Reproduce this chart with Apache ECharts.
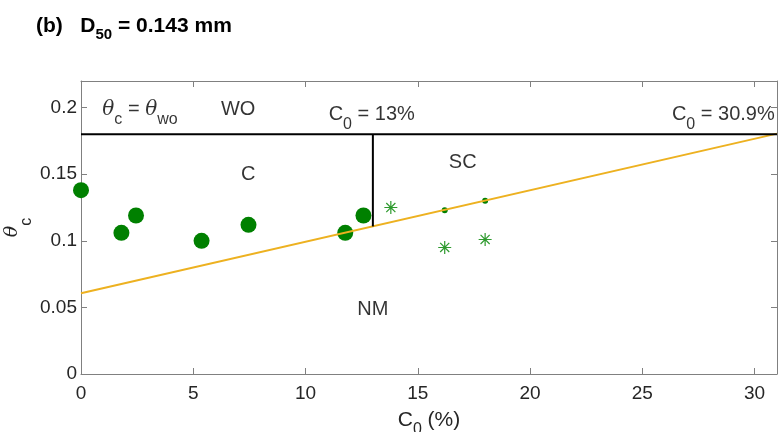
<!DOCTYPE html>
<html>
<head>
<meta charset="utf-8">
<script src="https://cdn.jsdelivr.net/npm/echarts@6/dist/echarts.min.js"></script>
<style>
html,body{margin:0;padding:0;background:#fff;}
#chart{width:779px;height:432px;}
</style>
</head>
<body>
<div id="chart"></div>
<script>
// measured points (C0 %, theta_c)
var bigX = [0, 1.8, 2.45, 5.37, 7.46, 11.77, 12.58];
var bigY = [0.138, 0.106, 0.119, 0.100, 0.112, 0.106, 0.119];
var dotX = [16.2, 18.0];
var dotY = [0.123, 0.130];
var starX = [13.8, 16.2, 18.0];
var starY = [0.125, 0.095, 0.101];
// fitted line and boundaries
var fitX = [0, 31];
var fitY = [0.0607, 0.1805];
var woX = [0, 31];
var woY = [0.18, 0.18];
var cutX = [13, 13];
var cutY = [0.18, 0.1108];
// region notes
var noteX = [0.95, 7.0, 12.95, 30.9, 7.45, 17.0, 13.0];
var noteY = [0.1985, 0.1985, 0.195, 0.195, 0.1495, 0.159, 0.0485];
var noteText = ['{i|θ}{s|c}{n| = }{i|θ}{s|wo}', '{n|WO}', '{n|C}{s|0}{n| = 13%}', '{n|C}{s|0}{n| = 30.9%}', '{n|C}', '{n|SC}', '{n|NM}'];
var noteAlign = ['left', 'center', 'center', 'right', 'center', 'center', 'center'];

var FONT = 'Liberation Sans, Arial, Helvetica, sans-serif';
var SERIF = 'DejaVu Serif, serif';
var AXC = '#808080';
var TXC = '#262626';
var GREEN = '#008000';

function pairs(xs, ys){
	var out = [];
	for(var i = 0; i < xs.length; i++){ out.push([xs[i], ys[i]]); }
	return out;
}

var notes = [];
for(var i = 0; i < noteX.length; i++){
	notes.push({value: [noteX[i], noteY[i], noteText[i]], label: {align: noteAlign[i]}});
}

var richNote = {
	n: {fontSize: 20, color: '#000', fontFamily: FONT},
	i: {fontSize: 20, color: '#000', fontFamily: SERIF, fontStyle: 'italic'},
	s: {fontSize: 16, color: '#000', fontFamily: FONT, padding: [20, 0, 0, 0]}
};

function frameAxis(pos){
	return {
		type: 'value', position: pos,
		splitLine: {show: false},
		axisLine: {show: true, onZero: false, lineStyle: {color: AXC, width: 1}},
		axisTick: {show: true, inside: true, length: 6, lineStyle: {color: AXC}},
		axisLabel: {show: false}
	};
}

var topAxis = frameAxis('top');
topAxis.min = 0; topAxis.max = 31; topAxis.interval = 5;
var rightAxis = frameAxis('right');
rightAxis.min = 0; rightAxis.max = 0.22; rightAxis.interval = 0.05;

var chart = echarts.init(document.getElementById('chart'));
var option = {
	animation: false,
	backgroundColor: '#fff',
	title: {
		left: 31, top: 6,
		text: '{b|(b)   D}{s|50}{b| = 0.143 mm}',
		textStyle: {
			rich: {
				b: {fontSize: 21, fontWeight: 'bold', color: '#000', fontFamily: FONT},
				s: {fontSize: 15, fontWeight: 'bold', color: '#000', fontFamily: FONT, padding: [16, 0, 0, 0]}
			}
		}
	},
	grid: {left: 81, top: 81, right: 2, bottom: 58, containLabel: false, outerBoundsMode: 'none'},
	xAxis: [{
		type: 'value', min: 0, max: 31, interval: 5,
		splitLine: {show: false},
		axisLine: {show: true, onZero: false, lineStyle: {color: AXC, width: 1}},
		axisTick: {show: true, inside: true, length: 6, lineStyle: {color: AXC}},
		axisLabel: {showMaxLabel: false, color: TXC, fontSize: 19, fontFamily: FONT, margin: 10},
		name: '{n|C}{s|0}{n| (%)}', nameLocation: 'middle', nameGap: 28, nameMoveOverlap: false,
		nameTextStyle: {rich: {
			n: {fontSize: 21, color: TXC, fontFamily: FONT},
			s: {fontSize: 16, color: TXC, fontFamily: FONT, padding: [20, 0, 0, 0]}
		}}
	}, topAxis],
	yAxis: [{
		type: 'value', min: 0, max: 0.22, interval: 0.05,
		splitLine: {show: false},
		axisLine: {show: true, onZero: false, lineStyle: {color: AXC, width: 1}},
		axisTick: {show: true, inside: true, length: 6, lineStyle: {color: AXC}},
		axisLabel: {showMaxLabel: false, color: TXC, fontSize: 19, fontFamily: FONT, margin: 4},
		name: '{i|θ}{s|c}', nameLocation: 'middle', nameGap: 46, nameRotate: 90, nameMoveOverlap: false,
		nameTextStyle: {rich: {
			i: {fontSize: 19, color: TXC, fontFamily: SERIF, fontStyle: 'italic'},
			s: {fontSize: 16, color: TXC, fontFamily: FONT, padding: [30, 0, 0, 0]}
		}}
	}, rightAxis],
	series: [{
		type: 'line', data: pairs(fitX, fitY), showSymbol: false, silent: true,
		lineStyle: {color: '#EDB120', width: 2}
	}, {
		type: 'line', data: pairs(woX, woY), showSymbol: false, silent: true,
		lineStyle: {color: '#000', width: 2}
	}, {
		type: 'line', data: pairs(cutX, cutY), showSymbol: false, silent: true,
		lineStyle: {color: '#000', width: 2}
	}, {
		type: 'scatter', data: pairs(bigX, bigY), symbol: 'circle', symbolSize: 16,
		itemStyle: {color: GREEN, opacity: 1}
	}, {
		type: 'scatter', data: pairs(dotX, dotY), symbol: 'circle', symbolSize: 6,
		itemStyle: {color: GREEN, opacity: 1}
	}, {
		type: 'scatter', data: pairs(starX, starY), symbolSize: 13,
		symbol: 'path://M10,0L10,20M0,10L20,10M3,3L17,17M3,17L17,3',
		itemStyle: {color: 'none', borderColor: '#2E9A2E', borderWidth: 1.2, opacity: 1}
	}, {
		type: 'scatter', data: notes, symbolSize: 0, silent: true,
		label: {show: true, position: 'inside', verticalAlign: 'middle',
			formatter: function(p){ return p.value[2]; }, rich: richNote}
	}]
};
chart.setOption(option);
</script>
</body>
</html>
